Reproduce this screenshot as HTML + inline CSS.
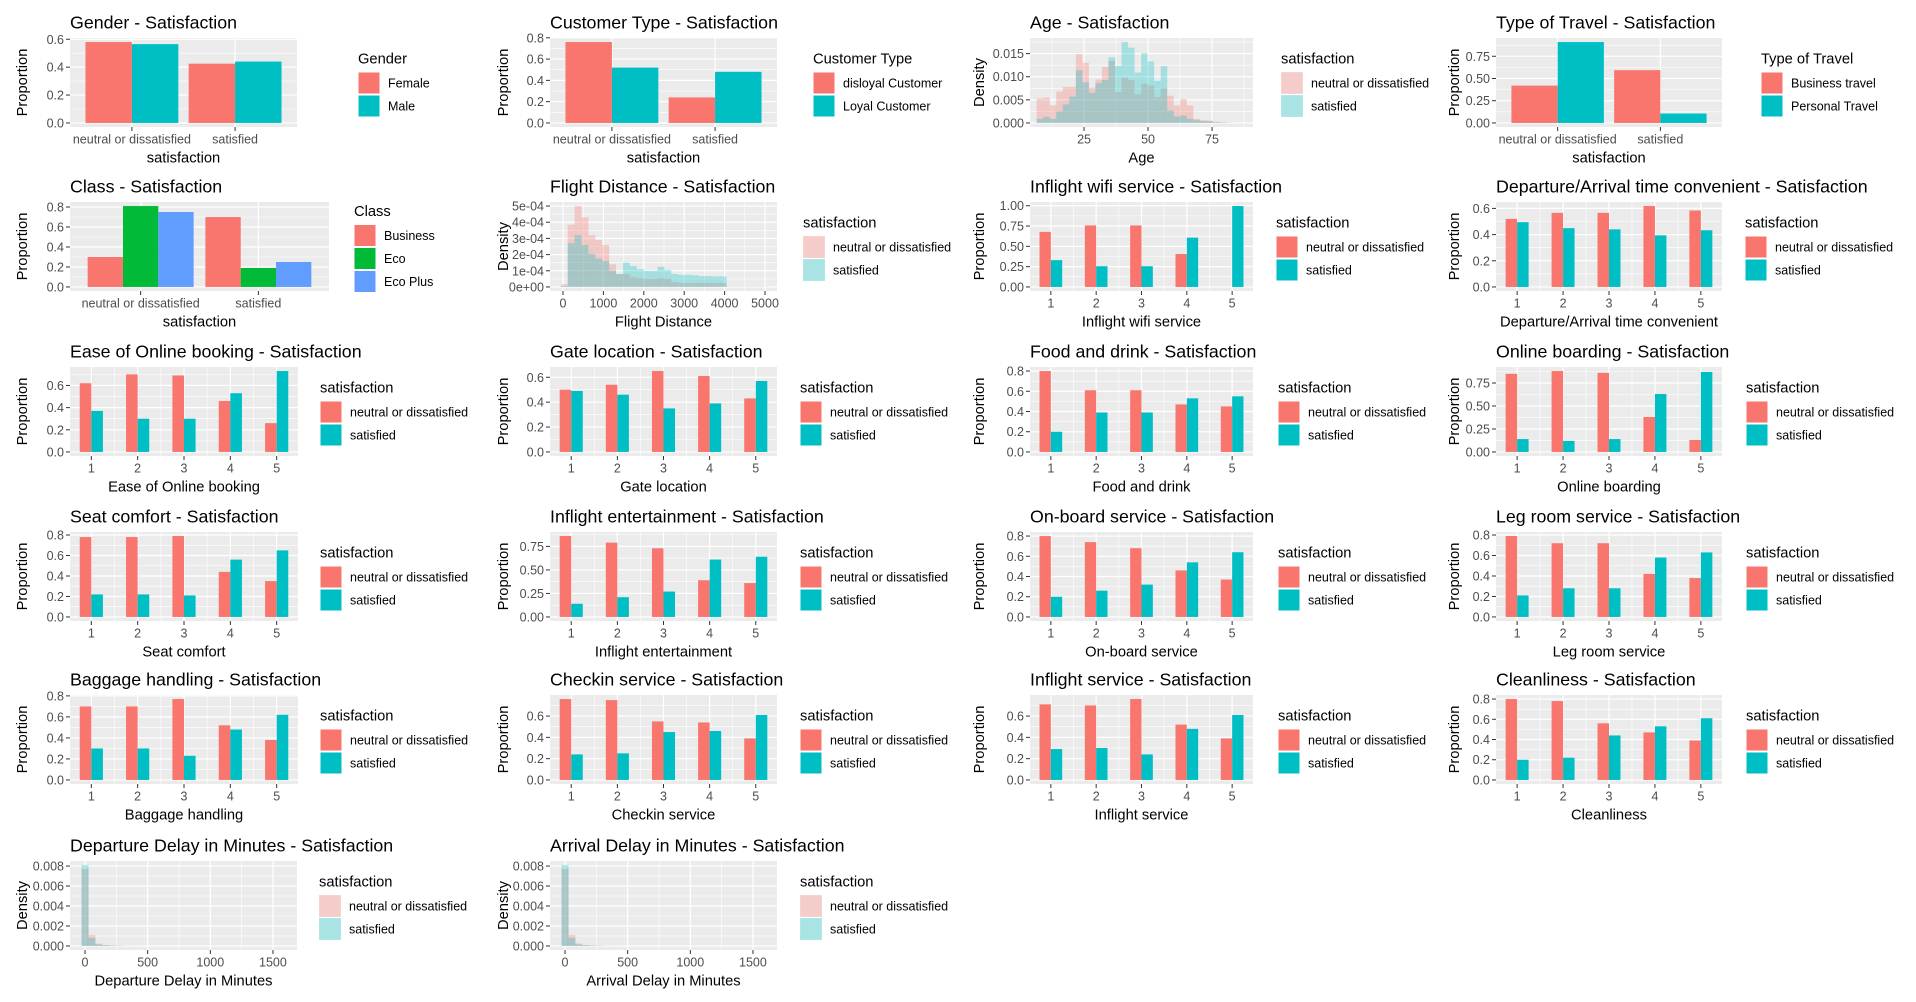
<!DOCTYPE html>
<html><head><meta charset="utf-8">
<style>
html,body{margin:0;padding:0;background:#fff;}
svg{display:block;font-family:"Liberation Sans",Arial,sans-serif;}
</style></head>
<body>
<svg id="chart" width="1916" height="1002" viewBox="0 0 1916 1002" xmlns="http://www.w3.org/2000/svg"></svg>
<script>
// ---------- data ----------
const twoCats = ['neutral or dissatisfied','satisfied'];
const genderFemale = [0.58,0.425];
const genderMale = [0.565,0.44];
const custDisloyal = [0.76,0.24];
const custLoyal = [0.52,0.48];
const travelBusiness = [0.42,0.594];
const travelPersonal = [0.91,0.106];
const classBusiness = [0.30,0.70];
const classEco = [0.81,0.19];
const classEcoPlus = [0.75,0.25];

const ratingLevels = [1,2,3,4,5];
const wifiNeutral = [0.678,0.757,0.757,0.405,0.004];
const wifiSatisfied = [0.33,0.255,0.255,0.607,0.996];
const depArrNeutral = [0.52,0.566,0.566,0.618,0.584];
const depArrSatisfied = [0.495,0.449,0.44,0.394,0.433];
const easeNeutral = [0.62,0.70,0.69,0.46,0.26];
const easeSatisfied = [0.37,0.30,0.30,0.53,0.73];
const gateNeutral = [0.50,0.54,0.65,0.61,0.43];
const gateSatisfied = [0.49,0.46,0.35,0.39,0.57];
const foodNeutral = [0.80,0.61,0.61,0.47,0.45];
const foodSatisfied = [0.20,0.39,0.39,0.53,0.55];
const onlineNeutral = [0.85,0.88,0.86,0.38,0.13];
const onlineSatisfied = [0.14,0.12,0.14,0.63,0.87];
const seatNeutral = [0.78,0.78,0.79,0.44,0.35];
const seatSatisfied = [0.22,0.22,0.21,0.56,0.65];
const entNeutral = [0.86,0.79,0.73,0.39,0.36];
const entSatisfied = [0.14,0.21,0.27,0.61,0.64];
const onboardNeutral = [0.80,0.74,0.68,0.46,0.37];
const onboardSatisfied = [0.20,0.26,0.32,0.54,0.64];
const legNeutral = [0.79,0.72,0.72,0.42,0.38];
const legSatisfied = [0.21,0.28,0.28,0.58,0.63];
const bagNeutral = [0.70,0.70,0.77,0.52,0.38];
const bagSatisfied = [0.30,0.30,0.23,0.48,0.62];
const checkinNeutral = [0.76,0.75,0.55,0.54,0.39];
const checkinSatisfied = [0.24,0.25,0.45,0.46,0.61];
const inflightNeutral = [0.71,0.70,0.76,0.52,0.39];
const inflightSatisfied = [0.29,0.30,0.24,0.48,0.61];
const cleanNeutral = [0.80,0.78,0.56,0.47,0.39];
const cleanSatisfied = [0.20,0.22,0.44,0.53,0.61];

// histograms: bin start, bin width, densities
const ageBinStart = 6.5, ageBinWidth = 2.55;
const ageNeutral = [0.0053,0.0055,0.0038,0.0068,0.0078,0.0078,0.0149,0.0130,0.0076,0.0094,0.0121,0.0134,0.0067,0.0098,0.0093,0.0062,0.0085,0.0081,0.0056,0.0075,0.0059,0.0038,0.0052,0.0038,0.0009,0.0006,0.0005,0.0003,0.0002,0.0001];
const ageSatisfied = [0.0009,0.0013,0.0009,0.0025,0.0040,0.0057,0.0114,0.0088,0.0065,0.0086,0.0093,0.0142,0.0123,0.0175,0.0163,0.0109,0.0151,0.0133,0.0091,0.0123,0.0027,0.0014,0.0016,0.0009,0.0006,0.0004,0.0004,0.0001,0.00005,0];
const flightBinStart = -55, flightBinWidth = 171;
const flightNeutral = [0.000017,0.000385,0.0005,0.00043,0.00032,0.00029,0.00026,0.00014,0.00008,0.00008,0.00006,0.000055,0.00005,0.00005,0.000055,0.00005,0.00003,0.000025,0.000025,0.000025,0.000025,0.000025,0.000025,0.000025,0.000001,0.000001,0.000001,0.000001,0.000001,0.000001];
const flightSatisfied = [0.000005,0.00027,0.00032,0.00026,0.000205,0.000175,0.00016,0.0001,0.00008,0.00015,0.00013,0.00011,0.0001,0.0001,0.000125,0.000105,0.00008,0.000075,0.000075,0.000072,0.000067,0.000067,0.000065,0.000065,0.000001,0.000001,0.000001,0.000001,0.000001,0.000001];
const delayBinStart = -27, delayBinWidth = 55;
const depDelayNeutral = [0.0077,0.0011,0.00024,0.0001,0.00006,0.00004,0.00002,0.00001,0.00001,0.000005,0.000005,0,0,0,0,0,0,0,0,0,0,0,0,0,0,0,0,0,0,0.000002];
const depDelaySatisfied = [0.0081,0.0008,0.00015,0.00008,0.00004,0.00002,0.00001,0.000005,0.000005,0,0,0,0,0,0,0,0,0,0,0,0,0,0,0,0,0,0,0,0,0];
const arrDelayNeutral = [0.0077,0.0011,0.00025,0.0001,0.00006,0.00004,0.00002,0.00001,0.00001,0.000005,0.000005,0,0,0,0,0,0,0,0,0,0,0,0,0,0,0,0,0,0,0.000002];
const arrDelaySatisfied = [0.0081,0.0008,0.00015,0.00008,0.00004,0.00002,0.00001,0.000005,0.000005,0,0,0,0,0,0,0,0,0,0,0,0,0,0,0,0,0,0,0,0,0];

// tick arrays
const ticksProp6 = [0,0.2,0.4,0.6];
const labelsProp6 = ['0.0','0.2','0.4','0.6'];
const ticksProp8 = [0,0.2,0.4,0.6,0.8];
const labelsProp8 = ['0.0','0.2','0.4','0.6','0.8'];
const ticksQ75 = [0,0.25,0.5,0.75];
const labelsQ75 = ['0.00','0.25','0.50','0.75'];
const ticksQ100 = [0,0.25,0.5,0.75,1];
const labelsQ100 = ['0.00','0.25','0.50','0.75','1.00'];
const ticksAgeY = [0,0.005,0.01,0.015];
const labelsAgeY = ['0.000','0.005','0.010','0.015'];
const ticksFlightY = [0,0.0001,0.0002,0.0003,0.0004,0.0005];
const labelsFlightY = ['0e+00','1e-04','2e-04','3e-04','4e-04','5e-04'];
const ticksDelayY = [0,0.002,0.004,0.006,0.008];
const labelsDelayY = ['0.000','0.002','0.004','0.006','0.008'];
const ticksAgeX = [25,50,75];
const ticksFlightX = [0,1000,2000,3000,4000,5000];
const ticksDelayX = [0,500,1000,1500];

// ---------- drawing ----------
const RED='#F8766D', TEAL='#00BFC4', GREEN='#00BA38', BLUE='#619CFF';
const svg=document.getElementById('chart');
const NS='http://www.w3.org/2000/svg';
const colLeft=[70,550,1030,1496];
const yTitleX=[22,503,979,1454];
const rowOff=[0,164,329,494,657,823];

function mk(tag,attrs,parent){
  const e=document.createElementNS(NS,tag);
  for(const k in attrs) e.setAttribute(k,attrs[k]);
  (parent||svg).appendChild(e);
  return e;
}
function txt(s,attrs,parent){const e=mk('text',attrs,parent);e.textContent=s;return e;}

function panel(cfg){
  const off=rowOff[cfg.row];
  const L=colLeft[cfg.col], R=cfg.right, T=off+38, B=off+127;
  const g=mk('g',{});
  
  
  const t=txt(cfg.title,{x:L,y:off+28.5,'font-size':17.8,fill:'#000'},g);
  
  
  let maxV=0; cfg.series.forEach(s=>s.values.forEach(v=>{if(v>maxV)maxV=v;}));
  const ylo=-0.05*maxV, yhi=1.05*maxV;
  const ys=v=>B-(v-ylo)/(yhi-ylo)*(B-T);
  const [xlo,xhi]=cfg.xDomain;
  const xs=v=>L+(v-xlo)/(xhi-xlo)*(R-L);
  const bg=mk('rect',{x:L,y:T,width:R-L,height:B-T,fill:'#EBEBEB'},g);
  
  
  const yt=cfg.yTicks, step=yt[1]-yt[0];
  for(let i=-1;i<yt.length;i++){const m=yt[0]+step*(i+0.5);
    if(m>ylo&&m<yhi){const l=mk('line',{x1:L,x2:R,y1:ys(m),y2:ys(m),stroke:'#fff','stroke-width':0.6},g);
      }}
  if(cfg.xMinor) cfg.xMinor.forEach(m=>{const l=mk('line',{x1:xs(m),x2:xs(m),y1:T,y2:B,stroke:'#fff','stroke-width':0.6},g);
      });
  yt.forEach(v=>{const l=mk('line',{x1:L,x2:R,y1:ys(v),y2:ys(v),stroke:'#fff','stroke-width':1.2},g);
    });
  cfg.xTicks.forEach(v=>{const l=mk('line',{x1:xs(v),x2:xs(v),y1:T,y2:B,stroke:'#fff','stroke-width':1.2},g);
    });
  if(cfg.type==='hist'){
    cfg.series.forEach((s,si)=>{s.values.forEach((v,i)=>{ if(v<=0)return;
      const x0=cfg.binStart+i*cfg.binWidth;
      const r=mk('rect',{x:xs(x0),y:ys(v),width:xs(x0+cfg.binWidth)-xs(x0),height:ys(0)-ys(v),fill:s.color,'fill-opacity':0.3},g);
      
      });});
  } else {
    const k=cfg.series.length, w=cfg.groupWidth/k;
    cfg.series.forEach((s,si)=>{s.values.forEach((v,i)=>{ const xc=cfg.xPos[i];
      const x0=xc-cfg.groupWidth/2+si*w;
      if(v<=0.005)return;
      const r=mk('rect',{x:xs(x0),y:ys(v),width:xs(x0+w)-xs(x0),height:ys(0)-ys(v),fill:s.color},g);
      
      });});
  }
  yt.forEach((v,i)=>{
    const tk=mk('line',{x1:L-4,x2:L,y1:ys(v),y2:ys(v),stroke:'#333','stroke-width':1},g);
    
    const lb=txt(cfg.yLabels[i],{x:L-6,y:ys(v)+4.5,'font-size':12.5,fill:'#4D4D4D','text-anchor':'end'},g);
    });
  cfg.xTicks.forEach((v,i)=>{
    const tk=mk('line',{x1:xs(v),x2:xs(v),y1:B,y2:B+4,stroke:'#333','stroke-width':1},g);
    
    const lb=txt(cfg.xLabels[i],{x:xs(v),y:off+143.5,'font-size':12.5,fill:'#4D4D4D','text-anchor':'middle'},g);
    });
  const xt=txt(cfg.xTitle,{x:(L+R)/2,y:off+162.5,'font-size':14.7,fill:'#000','text-anchor':'middle'},g);
  
  const yx=yTitleX[cfg.col], yy=(T+B)/2;
  const ytt=txt(cfg.yTitle,{x:yx,y:yy,'font-size':14.7,fill:'#000','text-anchor':'middle',transform:'rotate(-90 '+yx+' '+yy+')',dy:'0.35em'},g);
  
  const n=cfg.series.length, sh=(n-2)*11.5, lx=cfg.legendX;
  const lg=mk('g',{},g);
  
  const lt=txt(cfg.legendTitle,{x:lx,y:off+63.5-sh,'font-size':14.7,fill:'#000'},lg);
  
  cfg.series.forEach((s,i)=>{const ky=off+72-sh+i*23;
    const kb=mk('rect',{x:lx,y:ky,width:22,height:22,fill:cfg.type==='hist'?'#F2F2F2':s.color,stroke:'#fff','stroke-width':1},lg);
    
    if(cfg.type==='hist'){const ko=mk('rect',{x:lx,y:ky,width:22,height:22,fill:s.color,'fill-opacity':0.3},lg);
      }
    const ll=txt(s.name,{x:lx+30,y:ky+15.5,'font-size':12.5,fill:'#000'},lg);
    });
}

const ratingMinor=[1.5,2.5,3.5,4.5];
const rLabels=ratingLevels.map(String);
function cat2(id,row,col,right,legendX,title,legendTitle,series,yTicks,yLabels){
  panel({id,row,col,right,legendX,title,legendTitle,series,yTicks,yLabels,type:'bar',
    xDomain:[0.4,2.6],xTicks:[1,2],xLabels:twoCats,xPos:[1,2],groupWidth:0.9,xTitle:'satisfaction',yTitle:'Proportion'});
}
function rating(id,row,col,right,legendX,name,neu,sat,yTicks,yLabels){
  panel({id,row,col,right,legendX,title:name+' - Satisfaction',legendTitle:'satisfaction',
    series:[{name:'neutral or dissatisfied',color:RED,values:neu},{name:'satisfied',color:TEAL,values:sat}],
    yTicks,yLabels,type:'bar',xDomain:[0.54,5.46],xTicks:ratingLevels,xLabels:rLabels,xMinor:ratingMinor,xPos:ratingLevels,groupWidth:0.5,
    xTitle:name,yTitle:'Proportion'});
}
function hist(id,row,col,right,legendX,name,neu,sat,binStart,binWidth,xDomain,xTicks,xMinor,yTicks,yLabels){
  panel({id,row,col,right,legendX,title:name+' - Satisfaction',legendTitle:'satisfaction',
    series:[{name:'neutral or dissatisfied',color:RED,values:neu},{name:'satisfied',color:TEAL,values:sat}],
    yTicks,yLabels,type:'hist',binStart,binWidth,xDomain,xTicks,xLabels:xTicks.map(String),xMinor,xTitle:name,yTitle:'Density'});
}

cat2('gender',0,0,297,358,'Gender - Satisfaction','Gender',[{name:'Female',color:RED,values:genderFemale},{name:'Male',color:TEAL,values:genderMale}],ticksProp6,labelsProp6);
cat2('customer-type',0,1,777,813,'Customer Type - Satisfaction','Customer Type',[{name:'disloyal Customer',color:RED,values:custDisloyal},{name:'Loyal Customer',color:TEAL,values:custLoyal}],ticksProp8,labelsProp8);
hist('age',0,2,1253,1281,'Age',ageNeutral,ageSatisfied,ageBinStart,ageBinWidth,[3.9,91],ticksAgeX,[12.5,37.5,62.5,87.5],ticksAgeY,labelsAgeY);
cat2('type-of-travel',0,3,1722,1761,'Type of Travel - Satisfaction','Type of Travel',[{name:'Business travel',color:RED,values:travelBusiness},{name:'Personal Travel',color:TEAL,values:travelPersonal}],ticksQ75,labelsQ75);
cat2('class',1,0,329,354,'Class - Satisfaction','Class',[{name:'Business',color:RED,values:classBusiness},{name:'Eco',color:GREEN,values:classEco},{name:'Eco Plus',color:BLUE,values:classEcoPlus}],ticksProp8,labelsProp8);
hist('flight-distance',1,1,777,803,'Flight Distance',flightNeutral,flightSatisfied,flightBinStart,flightBinWidth,[-322,5297],ticksFlightX,[500,1500,2500,3500,4500],ticksFlightY,labelsFlightY);
rating('wifi',1,2,1253,1276,'Inflight wifi service',wifiNeutral,wifiSatisfied,ticksQ100,labelsQ100);
rating('dep-arr-time',1,3,1722,1745,'Departure/Arrival time convenient',depArrNeutral,depArrSatisfied,ticksProp6,labelsProp6);
rating('online-booking',2,0,298,320,'Ease of Online booking',easeNeutral,easeSatisfied,ticksProp6,labelsProp6);
rating('gate-location',2,1,777,800,'Gate location',gateNeutral,gateSatisfied,ticksProp6,labelsProp6);
rating('food-drink',2,2,1253,1278,'Food and drink',foodNeutral,foodSatisfied,ticksProp8,labelsProp8);
rating('online-boarding',2,3,1722,1746,'Online boarding',onlineNeutral,onlineSatisfied,ticksQ75,labelsQ75);
rating('seat-comfort',3,0,298,320,'Seat comfort',seatNeutral,seatSatisfied,ticksProp8,labelsProp8);
rating('entertainment',3,1,777,800,'Inflight entertainment',entNeutral,entSatisfied,ticksQ75,labelsQ75);
rating('onboard-service',3,2,1253,1278,'On-board service',onboardNeutral,onboardSatisfied,ticksProp8,labelsProp8);
rating('leg-room',3,3,1722,1746,'Leg room service',legNeutral,legSatisfied,ticksProp8,labelsProp8);
rating('baggage',4,0,298,320,'Baggage handling',bagNeutral,bagSatisfied,ticksProp8,labelsProp8);
rating('checkin',4,1,777,800,'Checkin service',checkinNeutral,checkinSatisfied,ticksProp6,labelsProp6);
rating('inflight-service',4,2,1253,1278,'Inflight service',inflightNeutral,inflightSatisfied,ticksProp6,labelsProp6);
rating('cleanliness',4,3,1722,1746,'Cleanliness',cleanNeutral,cleanSatisfied,ticksProp8,labelsProp8);
hist('departure-delay',5,0,297,319,'Departure Delay in Minutes',depDelayNeutral,depDelaySatisfied,delayBinStart,delayBinWidth,[-120,1692],ticksDelayX,[250,750,1250],ticksDelayY,labelsDelayY);
hist('arrival-delay',5,1,777,800,'Arrival Delay in Minutes',arrDelayNeutral,arrDelaySatisfied,delayBinStart,delayBinWidth,[-120,1692],ticksDelayX,[250,750,1250],ticksDelayY,labelsDelayY);
</script>
</body></html>
